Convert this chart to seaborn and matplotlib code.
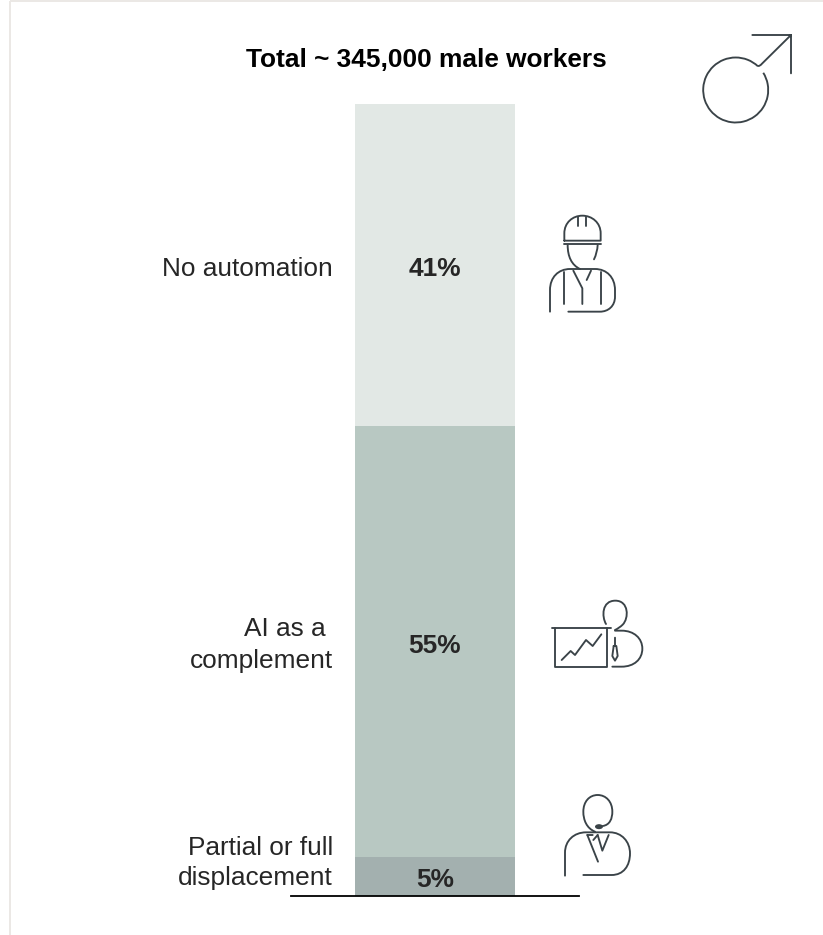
import matplotlib
matplotlib.use("Agg")
import matplotlib.pyplot as plt
import pandas as pd
import seaborn as sns
from matplotlib.patches import Arc, Ellipse, PathPatch
from matplotlib.path import Path

categories = ["No automation", "AI as a \ncomplement", "Partial or full\ndisplacement"]
shares = [41, 55, 5]
value_labels = ["41%", "55%", "5%"]
segment_colors = ["#e2e8e5", "#b8c8c2", "#a3b0af"]
title = "Total ~ 345,000 male workers"
group = "Male"

W, H = 823, 935
INK = "#3a4348"
TEXT = "#262626"

sns.set_theme(style="white")
plt.rcParams["font.family"] = ["Liberation Sans", "DejaVu Sans"]
FS = 18.9

fig = plt.figure(figsize=(W / 100, H / 100), dpi=100, facecolor="white")

# stacked column, bottom segment first
ax = fig.add_axes([291 / W, 1 - 896 / H, 288 / W, 792 / H])
order = list(zip(categories, shares, segment_colors))[::-1]
base = 0
mids = {}
for cat, share, color in order:
    df = pd.DataFrame({"group": [group], "share": [share]})
    sns.barplot(data=df, x="group", y="share", bottom=base, color=color,
                saturation=1, width=0.559, linewidth=0, edgecolor="none", ax=ax)
    mids[cat] = base + share / 2
    base += share
ax.set_xlim(-0.5, 0.5)
ax.set_ylim(0, sum(shares))
ax.set_xlabel("")
ax.set_ylabel("")
ax.set_xticks([])
ax.set_yticks([])
ax.patch.set_alpha(0)
for side in ("top", "left", "right"):
    ax.spines[side].set_visible(False)
ax.spines["bottom"].set_color("black")
ax.spines["bottom"].set_linewidth(1.3)

for cat, lab, dy in zip(categories, value_labels, [-0.5, -0.6, -0.4]):
    ax.text(0, mids[cat] + dy, lab, ha="center", va="center",
            fontsize=FS, fontweight="bold", color=TEXT)

# pixel-space layer for the frame, text and pictograms
ov = fig.add_axes([0, 0, 1, 1], zorder=5)
ov.set_xlim(0, W)
ov.set_ylim(H, 0)
ov.axis("off")
ov.patch.set_alpha(0)

ov.plot([10.5, 10.5], [1, H], color="#ebe8e5", lw=1.4, solid_capstyle="butt")
ov.plot([10, W], [1, 1], color="#ebe8e5", lw=1.4, solid_capstyle="butt")

ov.text(426.5, 60, title, ha="center", va="center", fontsize=FS,
        fontweight="bold", color="black")

for cat, y, gap in zip(categories, [269, 645, 863], [1.2, 1.4, 1.28]):
    ov.text(333, y, cat, ha="right", va="center", fontsize=FS, color=TEXT,
            linespacing=gap, multialignment="right")


def stroke(spec, ox, oy, s=3.0, lw=1.35):
    """Draw a small path given as M/L/Q/C commands in a local grid."""
    verts, codes = [], []
    sizes = {"M": (1, Path.MOVETO), "L": (1, Path.LINETO),
             "Q": (2, Path.CURVE3), "C": (3, Path.CURVE4)}
    toks = spec.split()
    i = 0
    while i < len(toks):
        n, code = sizes[toks[i]]
        i += 1
        for _ in range(n):
            verts.append((ox + float(toks[i]) / s, oy + float(toks[i + 1]) / s))
            codes.append(code)
            i += 2
    ov.add_patch(PathPatch(Path(verts, codes), fill=False, edgecolor=INK,
                           lw=lw, capstyle="round", joinstyle="round"))


# male symbol
ov.add_patch(Arc((735.7, 90), 65, 65, theta1=-32, theta2=313, edgecolor=INK, lw=1.35))
stroke("M 685 168 Q 690 168 695 162 L 783 75 M 667 75 L 783 75 L 783 190", 530, 10)

# hard-hat worker
worker = [
    "M 103 122 L 103 100 C 103 68 128 47 157 47 C 186 47 212 68 212 100 L 212 122 L 103 122",
    "M 103 133 L 212 133",
    "M 145 50 L 145 78 M 168 50 L 168 78",
    "M 113 135 C 113 170 125 195 150 207",
    "M 203 135 Q 202 158 192 178",
    "M 60 335 L 60 270 C 60 232 85 207 120 207 L 195 207 C 230 207 255 232 255 270 L 255 290 C 255 318 235 335 210 335 L 115 335",
    "M 101 215 L 101 312 M 212 215 L 212 312",
    "M 130 212 L 157 265 L 157 312",
    "M 183 212 L 170 240",
]
for seg in worker:
    stroke(seg, 530, 200)

# analyst at a chart
analyst = [
    "M 65 113 L 243 113",
    "M 76 113 L 76 231 L 232 231 L 232 113",
    "M 95 210 L 122 183 L 135 195 L 168 150 L 188 168 L 214 133",
    "M 228 102 C 215 80 215 32 256 32 C 297 32 297 85 278 104 Q 268 114 255 120",
    "M 255 122 L 275 122 C 312 122 337 145 337 176 C 337 208 312 230 275 230 L 247 230",
    "M 255 143 L 255 168 M 251 168 L 259 168 L 263 198 L 255 212 L 247 198 L 251 168",
]
for seg in analyst:
    stroke(seg, 530, 590)

# call-centre agent
agent = [
    "M 195 155 C 170 145 160 120 160 95 C 160 65 178 45 203 45 C 228 45 247 65 247 95 C 247 115 240 135 218 138",
    "M 105 287 L 105 218 C 105 182 132 157 168 157 L 240 157 C 275 157 300 185 300 220 C 300 258 280 285 245 285 L 160 285",
    "M 172 165 L 204 245",
    "M 203 165 L 217 212 L 236 165",
    "M 188 165 L 172 165 M 203 165 L 190 180",
]
for seg in agent:
    stroke(seg, 530, 780)
ov.add_patch(Ellipse((530 + 207 / 3, 780 + 140 / 3), 8, 5, facecolor=INK, edgecolor="none"))

fig.savefig("out.png", dpi=100, facecolor="white")
